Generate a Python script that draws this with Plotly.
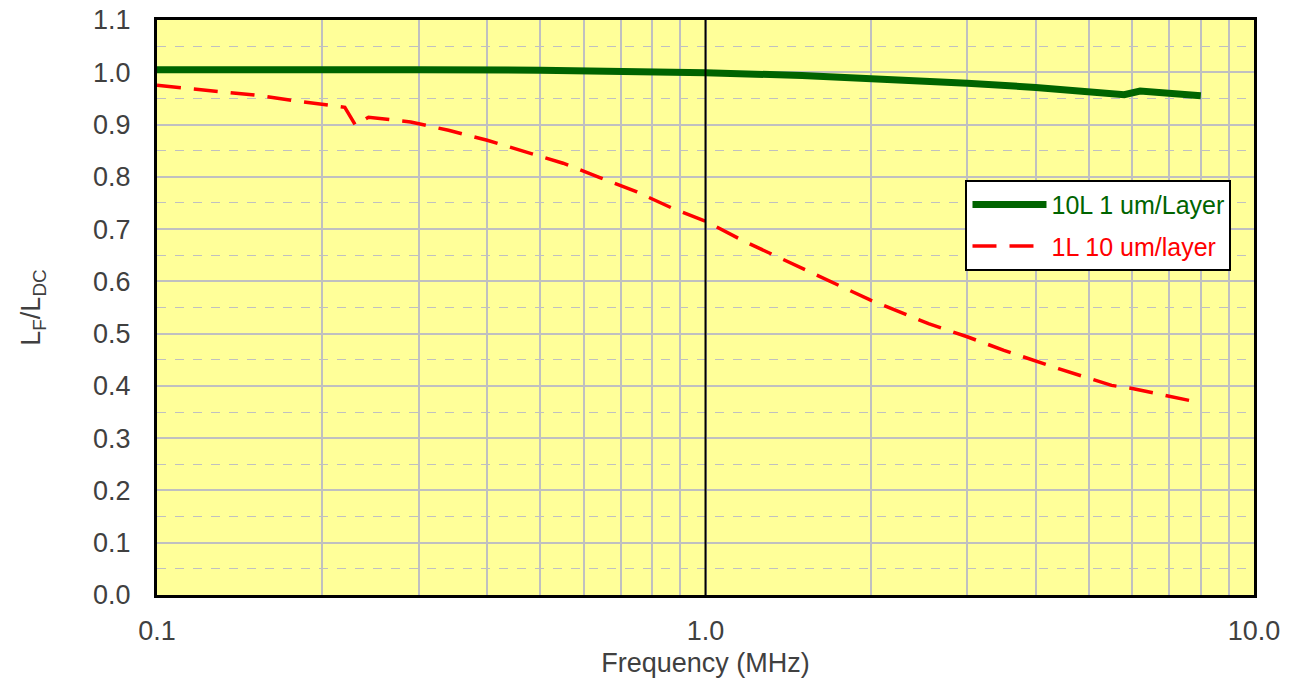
import plotly.graph_objects as go

# Data
freq_10L = [0.1, 0.15, 0.2, 0.3, 0.5, 0.7, 1.0, 1.5, 2.0, 3.0, 4.0, 5.0, 5.8, 6.2, 7.0, 8.0]
ratio_10L = [1.005, 1.006, 1.005, 1.005, 1.004, 1.002, 0.999, 0.994, 0.989, 0.979,
             0.971, 0.964, 0.957, 0.964, 0.960, 0.955]

freq_1L = [0.1, 0.135, 0.155, 0.18, 0.22, 0.23, 0.243, 0.29, 0.34, 0.40, 0.47, 0.55,
           0.64, 0.75, 0.87, 1.0, 1.18, 1.6, 2.0, 2.55, 3.0, 3.5, 4.4, 5.5, 6.0, 7.8]
ratio_1L = [0.975, 0.962, 0.955, 0.945, 0.933, 0.899, 0.914, 0.905, 0.889, 0.870, 0.847,
            0.826, 0.799, 0.771, 0.740, 0.715, 0.676, 0.612, 0.564, 0.519, 0.494, 0.468,
            0.433, 0.401, 0.395, 0.370]

x_ticks = [0.1, 1, 10]
x_ticktext = ["0.1", "1.0", "10.0"]
x_minor = [0.2, 0.3, 0.4, 0.5, 0.6, 0.7, 0.8, 0.9, 2, 3, 4, 5, 6, 7, 8, 9]

FONT = "Liberation Sans, Arial, sans-serif"
GRID = "#c0c0c0"
TXT = "#404040"
FS = 27

fig = go.Figure()
fig.add_trace(go.Scatter(
    x=freq_10L, y=ratio_10L, mode="lines",
    name="<span style='color:#006400'>10L 1 um/Layer</span>",
    line=dict(color="#006400", width=7),
    legendgroup="a",
))
fig.add_trace(go.Scatter(
    x=freq_1L, y=ratio_1L, mode="lines",
    name="<span style='color:#ff0000'>1L 10 um/layer</span>",
    line=dict(color="#ff0000", width=3.5, dash="24px,13px"),
    legendgroup="b",
))

fig.add_shape(type="line", xref="x", yref="paper", x0=1, x1=1, y0=0, y1=1,
              line=dict(color="black", width=2), layer="above")

fig.update_layout(
    width=1289, height=688,
    margin=dict(l=157, r=35, t=20, b=93, autoexpand=False),
    paper_bgcolor="white",
    plot_bgcolor="#ffff99",
    font=dict(family=FONT, size=FS, color=TXT),
    showlegend=True,
    legend=dict(
        x=0.737, y=0.722, xanchor="left", yanchor="top",
        bgcolor="white", bordercolor="black", borderwidth=2,
        font=dict(family=FONT, size=25),
        tracegroupgap=6,
        traceorder="grouped",
        itemwidth=74,
    ),
    xaxis=dict(
        type="log", range=[-1, 1], automargin=False,
        tickvals=x_ticks, ticktext=x_ticktext,
        showgrid=True, gridcolor=GRID, gridwidth=2,
        minor=dict(tickvals=x_minor, showgrid=True, gridcolor=GRID, gridwidth=2, ticks=""),
        showline=True, linecolor="black", linewidth=3, mirror=True,
        ticks="", ticklabelstandoff=10,
        title=dict(text="Frequency (MHz)", font=dict(size=FS, color=TXT), standoff=8),
        tickfont=dict(size=FS, color=TXT),
        zeroline=False,
    ),
    yaxis=dict(
        range=[0, 1.1], dtick=0.1, tick0=0, tickformat=".1f", automargin=False,
        showgrid=True, gridcolor=GRID, gridwidth=2,
        minor=dict(dtick=0.05, tick0=0, showgrid=True, gridcolor=GRID, gridwidth=1,
                   griddash="dash", ticks=""),
        showline=True, linecolor="black", linewidth=3, mirror=True,
        ticks="", ticklabelstandoff=18,
        title=dict(text="L<sub>F</sub>/L<sub>DC</sub>", font=dict(size=FS, color=TXT), standoff=45),
        tickfont=dict(size=FS, color=TXT),
        zeroline=False,
    ),
)

fig.write_html("out.html")
